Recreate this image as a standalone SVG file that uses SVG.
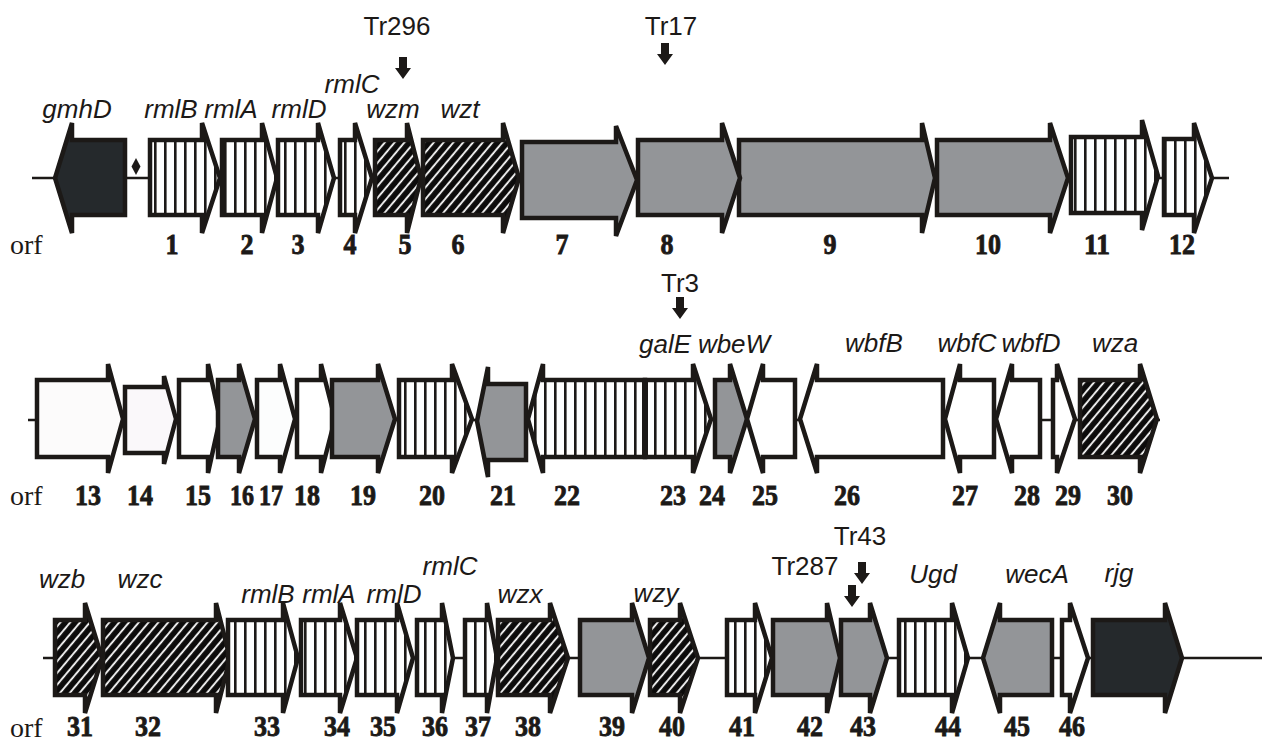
<svg xmlns="http://www.w3.org/2000/svg" width="1262" height="742" viewBox="0 0 1262 742">
<defs>
<pattern id="vs" patternUnits="userSpaceOnUse" width="10" height="10"><rect width="10" height="10" fill="#fff"/><rect x="4" width="2.6" height="10" fill="#1c1917"/></pattern>
<pattern id="hd" patternUnits="userSpaceOnUse" width="7.5" height="7.5" patternTransform="rotate(40)"><rect width="7.5" height="7.5" fill="#0c0b0b"/><rect x="3" width="1.8" height="7.5" fill="#fff"/></pattern>
<style>
.g{stroke:#1c1917;stroke-width:4.5;stroke-linejoin:miter}
.gray{fill:#939598}.dark{fill:#25292c}.wh{fill:#fff}.st{fill:url(#vs)}.ht{fill:url(#hd)}
.lab{font-family:"Liberation Sans",Arial,sans-serif;font-style:italic;font-size:26px;fill:#1c1917;text-anchor:middle}
.tr{font-family:"Liberation Sans",Arial,sans-serif;font-size:26px;fill:#1c1917;text-anchor:middle}
.num{font-family:"Liberation Serif","Times New Roman",serif;font-weight:bold;font-size:30px;fill:#1c1917;stroke:#1c1917;stroke-width:0.9;text-anchor:middle}
.orf{font-family:"Liberation Serif","Times New Roman",serif;font-size:28px;fill:#1c1917}
.mk{fill:#1c1917}
</style>
</defs>
<rect width="1262" height="742" fill="#fff"/>
<g id="backbone" stroke="#1c1917" stroke-width="2.5">
<line x1="32" y1="178" x2="1229" y2="178"/>
<line x1="28" y1="420" x2="1160" y2="420"/>
<line x1="43" y1="658" x2="1262" y2="658"/>
</g>
<!-- Row 1 -->
<g id="gmhD"><polygon class="g dark" points="125,140 72,140 72,123 55,178 72,233 72,215 125,215"/></g>
<g id="diamond"><polygon class="mk" points="136,158 140.5,166.5 136,175 131.5,166.5"/></g>
<g id="orf1"><polygon class="g st" points="150,140 202,140 202,123 220,178 202,233 202,215 150,215"/></g>
<g id="orf2"><polygon class="g st" points="222,140 262,140 262,123 277,178 262,233 262,215 222,215"/></g>
<g id="orf3"><polygon class="g st" points="278,140 318,140 318,123 334,178 318,233 318,215 278,215"/></g>
<g id="orf4"><polygon class="g st" points="340,140 355,140 355,123 372,178 355,233 355,215 340,215"/></g>
<g id="orf5"><polygon class="g ht" points="375,140 407,140 407,123 421,178 407,233 407,215 375,215"/></g>
<g id="orf6"><polygon class="g ht" points="423,140 503,140 503,123 519,178 503,233 503,215 423,215"/></g>
<g id="orf7"><polygon class="g gray" points="522,142 616,142 616,126 637,180 616,236 616,218 522,218"/></g>
<g id="orf9"><polygon class="g gray" points="739,140 922,140 922,123 935,178 922,233 922,215 739,215"/></g>
<g id="orf8"><polygon class="g gray" points="638,140 722,140 722,123 740,178 722,233 722,215 638,215"/></g>
<g id="orf10"><polygon class="g gray" points="937,140 1050,140 1050,123 1068,178 1050,233 1050,215 937,215"/></g>
<g id="orf11"><polygon class="g st" points="1071,137 1142,137 1142,120 1158,176 1142,230 1142,213 1071,213"/></g>
<g id="orf12"><polygon class="g st" points="1164,139 1194,139 1194,123 1212,178 1194,233 1194,215 1164,215"/></g>
<!-- Row 2 -->
<g id="orf13"><polygon class="g" fill="#fcfbfb" points="37,380 108,380 108,364 123,419 108,473 108,457 37,457"/></g>
<g id="orf14"><polygon class="g" fill="#faf8fa" points="125,387 164,387 164,376 176,419 164,464 164,453 125,453"/></g>
<g id="orf15"><polygon class="g wh" points="179,380 208,380 208,364 220,419 208,473 208,457 179,457"/></g>
<g id="orf16"><polygon class="g gray" points="218,380 239,380 239,364 255,419 239,473 239,457 218,457"/></g>
<g id="orf17"><polygon class="g" fill="#fcfdfd" points="257,380 280,380 280,364 295,419 280,473 280,457 257,457"/></g>
<g id="orf18"><polygon class="g wh" points="297,380 321,380 321,364 335,419 321,473 321,457 297,457"/></g>
<g id="orf19"><polygon class="g gray" points="332,380 378,380 378,364 395,419 378,473 378,457 332,457"/></g>
<g id="orf20"><polygon class="g st" points="399,380 452,380 452,364 472,419 452,473 452,457 399,457"/></g>
<g id="orf21"><polygon class="g gray" points="526,384 488,384 488,367 477,421 488,477 488,460 526,460"/></g>
<g id="orf22"><polygon class="g st" points="645,380 543,380 543,364 528,419 543,473 543,457 645,457"/></g>
<g id="orf23"><polygon class="g st" points="645,380 693,380 693,364 711,419 693,473 693,457 645,457"/><line x1="645" y1="380" x2="645" y2="457" stroke="#1c1917" stroke-width="6"/></g>
<g id="orf24"><polygon class="g gray" points="715,380 730,380 730,364 747,419 730,473 730,457 715,457"/></g>
<g id="orf25"><polygon class="g wh" points="795,380 763,380 763,364 747,419 763,473 763,457 795,457"/></g>
<g id="orf26"><polygon class="g wh" points="943,380 817,380 817,364 800,419 817,473 817,457 943,457"/></g>
<g id="orf27"><polygon class="g wh" points="994,380 960,380 960,364 945,419 960,473 960,457 994,457"/></g>
<g id="orf28"><polygon class="g wh" points="1040,380 1012,380 1012,364 996,419 1012,473 1012,457 1040,457"/></g>
<g id="orf29"><polygon class="g wh" points="1053,380 1057,380 1057,364 1075,419 1057,473 1057,457 1053,457"/></g>
<g id="orf30"><polygon class="g ht" points="1080,380 1140,380 1140,364 1157,419 1140,473 1140,457 1080,457"/></g>
<!-- Row 3 -->
<g id="orf31"><polygon class="g ht" points="55,620 85,620 85,603 102,658 85,713 85,695 55,695"/></g>
<g id="orf32"><polygon class="g ht" points="103,620 216,620 216,603 230,658 216,713 216,695 103,695"/></g>
<g id="orf33"><polygon class="g st" points="228,620 283,620 283,603 298,658 283,713 283,695 228,695"/></g>
<g id="orf34"><polygon class="g st" points="301,620 340,620 340,603 357,658 340,713 340,695 301,695"/></g>
<g id="orf35"><polygon class="g st" points="357,620 397,620 397,603 413,658 397,713 397,695 357,695"/></g>
<g id="orf36"><polygon class="g st" points="417,620 442,620 442,603 453,658 442,713 442,695 417,695"/></g>
<g id="orf37"><polygon class="g st" points="465,620 487,620 487,603 497,658 487,713 487,695 465,695"/></g>
<g id="orf38"><polygon class="g ht" points="498,620 550,620 550,603 568,658 550,713 550,695 498,695"/></g>
<g id="orf39"><polygon class="g gray" points="580,620 632,620 632,603 649,658 632,713 632,695 580,695"/></g>
<g id="orf40"><polygon class="g ht" points="650,620 680,620 680,603 698,658 680,713 680,695 650,695"/></g>
<g id="orf41"><polygon class="g st" points="727,620 755,620 755,603 772,658 755,713 755,695 727,695"/></g>
<g id="orf42"><polygon class="g gray" points="773,620 827,620 827,603 840,658 827,713 827,695 773,695"/></g>
<g id="orf43"><polygon class="g gray" points="841,620 870,620 870,603 887,658 870,713 870,695 841,695"/></g>
<g id="orf44"><polygon class="g st" points="899,620 952,620 952,603 968,658 952,713 952,695 899,695"/></g>
<g id="orf45"><polygon class="g gray" points="1052,620 1000,620 1000,603 983,658 1000,713 1000,695 1052,695"/></g>
<g id="orf46"><polygon class="g wh" points="1062,620 1070,620 1070,603 1088,658 1070,713 1070,695 1062,695"/></g>
<g id="rjg"><polygon class="g dark" points="1093,620 1165,620 1165,603 1182,658 1165,713 1165,695 1093,695"/></g>
<!-- insertion markers -->
<g id="markers" class="mk">
<polygon points="399,57 407,57 407,68 411,68 403,79 395,68 399,68"/>
<polygon points="661,43 669,43 669,54 673,54 665,65 657,54 661,54"/>
<polygon points="676,297 684,297 684,308 688,308 680,319 672,308 676,308"/>
<polygon points="858,562 866,562 866,573 870,573 862,584 854,573 858,573"/>
<polygon points="848,585 856,585 856,596 860,596 852,607 844,596 848,596"/>
</g>
<g id="labels">
<text class="tr" x="397" y="35">Tr296</text>
<text class="tr" x="671" y="35">Tr17</text>
<text class="tr" x="680" y="292">Tr3</text>
<text class="tr" x="860" y="545">Tr43</text>
<text class="tr" x="805" y="575">Tr287</text>
<text class="lab" x="77" y="118">gmhD</text>
<text class="lab" x="171" y="118">rmlB</text>
<text class="lab" x="231" y="118">rmlA</text>
<text class="lab" x="299" y="118">rmlD</text>
<text class="lab" x="352" y="93">rmlC</text>
<text class="lab" x="393" y="118">wzm</text>
<text class="lab" x="460" y="118">wzt</text>
<text class="lab" x="665" y="353">galE</text>
<text class="lab" x="734" y="353">wbeW</text>
<text class="lab" x="874" y="352">wbfB</text>
<text class="lab" x="967" y="352">wbfC</text>
<text class="lab" x="1031" y="352">wbfD</text>
<text class="lab" x="1115" y="352">wza</text>
<text class="lab" x="62" y="588">wzb</text>
<text class="lab" x="140" y="588">wzc</text>
<text class="lab" x="268" y="603">rmlB</text>
<text class="lab" x="329" y="603">rmlA</text>
<text class="lab" x="394" y="603">rmlD</text>
<text class="lab" x="450" y="575">rmlC</text>
<text class="lab" x="520" y="603">wzx</text>
<text class="lab" x="656" y="602">wzy</text>
<text class="lab" x="933" y="583">Ugd</text>
<text class="lab" x="1037" y="583">wecA</text>
<text class="lab" x="1119" y="582">rjg</text>
</g>
<g id="numbers">
<text class="orf" x="10" y="254">orf</text>
<text class="orf" x="10" y="505">orf</text>
<text class="orf" x="10" y="737">orf</text>
<text class="num" x="172" y="254" textLength="13" lengthAdjust="spacingAndGlyphs">1</text>
<text class="num" x="247" y="254" textLength="13" lengthAdjust="spacingAndGlyphs">2</text>
<text class="num" x="298" y="254" textLength="13" lengthAdjust="spacingAndGlyphs">3</text>
<text class="num" x="350" y="254" textLength="13" lengthAdjust="spacingAndGlyphs">4</text>
<text class="num" x="405" y="254" textLength="13" lengthAdjust="spacingAndGlyphs">5</text>
<text class="num" x="458" y="254" textLength="13" lengthAdjust="spacingAndGlyphs">6</text>
<text class="num" x="562" y="254" textLength="13" lengthAdjust="spacingAndGlyphs">7</text>
<text class="num" x="667" y="254" textLength="13" lengthAdjust="spacingAndGlyphs">8</text>
<text class="num" x="830" y="254" textLength="13" lengthAdjust="spacingAndGlyphs">9</text>
<text class="num" x="988" y="254" textLength="26" lengthAdjust="spacingAndGlyphs">10</text>
<text class="num" x="1097" y="254" textLength="26" lengthAdjust="spacingAndGlyphs">11</text>
<text class="num" x="1182" y="254" textLength="26" lengthAdjust="spacingAndGlyphs">12</text>
<text class="num" x="88" y="505" textLength="26" lengthAdjust="spacingAndGlyphs">13</text>
<text class="num" x="140" y="505" textLength="26" lengthAdjust="spacingAndGlyphs">14</text>
<text class="num" x="198" y="505" textLength="26" lengthAdjust="spacingAndGlyphs">15</text>
<text class="num" x="242" y="505" textLength="24" lengthAdjust="spacingAndGlyphs">16</text>
<text class="num" x="271" y="505" textLength="24" lengthAdjust="spacingAndGlyphs">17</text>
<text class="num" x="307" y="505" textLength="26" lengthAdjust="spacingAndGlyphs">18</text>
<text class="num" x="363" y="505" textLength="26" lengthAdjust="spacingAndGlyphs">19</text>
<text class="num" x="432" y="505" textLength="26" lengthAdjust="spacingAndGlyphs">20</text>
<text class="num" x="503" y="505" textLength="26" lengthAdjust="spacingAndGlyphs">21</text>
<text class="num" x="567" y="505" textLength="26" lengthAdjust="spacingAndGlyphs">22</text>
<text class="num" x="673" y="505" textLength="26" lengthAdjust="spacingAndGlyphs">23</text>
<text class="num" x="712" y="505" textLength="26" lengthAdjust="spacingAndGlyphs">24</text>
<text class="num" x="765" y="505" textLength="26" lengthAdjust="spacingAndGlyphs">25</text>
<text class="num" x="847" y="505" textLength="26" lengthAdjust="spacingAndGlyphs">26</text>
<text class="num" x="965" y="505" textLength="26" lengthAdjust="spacingAndGlyphs">27</text>
<text class="num" x="1027" y="505" textLength="26" lengthAdjust="spacingAndGlyphs">28</text>
<text class="num" x="1068" y="505" textLength="26" lengthAdjust="spacingAndGlyphs">29</text>
<text class="num" x="1120" y="505" textLength="26" lengthAdjust="spacingAndGlyphs">30</text>
<text class="num" x="80" y="736" textLength="26" lengthAdjust="spacingAndGlyphs">31</text>
<text class="num" x="148" y="736" textLength="26" lengthAdjust="spacingAndGlyphs">32</text>
<text class="num" x="267" y="736" textLength="26" lengthAdjust="spacingAndGlyphs">33</text>
<text class="num" x="337" y="736" textLength="26" lengthAdjust="spacingAndGlyphs">34</text>
<text class="num" x="383" y="736" textLength="26" lengthAdjust="spacingAndGlyphs">35</text>
<text class="num" x="435" y="736" textLength="26" lengthAdjust="spacingAndGlyphs">36</text>
<text class="num" x="478" y="736" textLength="26" lengthAdjust="spacingAndGlyphs">37</text>
<text class="num" x="528" y="736" textLength="26" lengthAdjust="spacingAndGlyphs">38</text>
<text class="num" x="612" y="736" textLength="26" lengthAdjust="spacingAndGlyphs">39</text>
<text class="num" x="672" y="736" textLength="26" lengthAdjust="spacingAndGlyphs">40</text>
<text class="num" x="742" y="736" textLength="26" lengthAdjust="spacingAndGlyphs">41</text>
<text class="num" x="810" y="736" textLength="26" lengthAdjust="spacingAndGlyphs">42</text>
<text class="num" x="863" y="736" textLength="26" lengthAdjust="spacingAndGlyphs">43</text>
<text class="num" x="948" y="736" textLength="26" lengthAdjust="spacingAndGlyphs">44</text>
<text class="num" x="1017" y="736" textLength="26" lengthAdjust="spacingAndGlyphs">45</text>
<text class="num" x="1072" y="736" textLength="26" lengthAdjust="spacingAndGlyphs">46</text>
</g>
</svg>
